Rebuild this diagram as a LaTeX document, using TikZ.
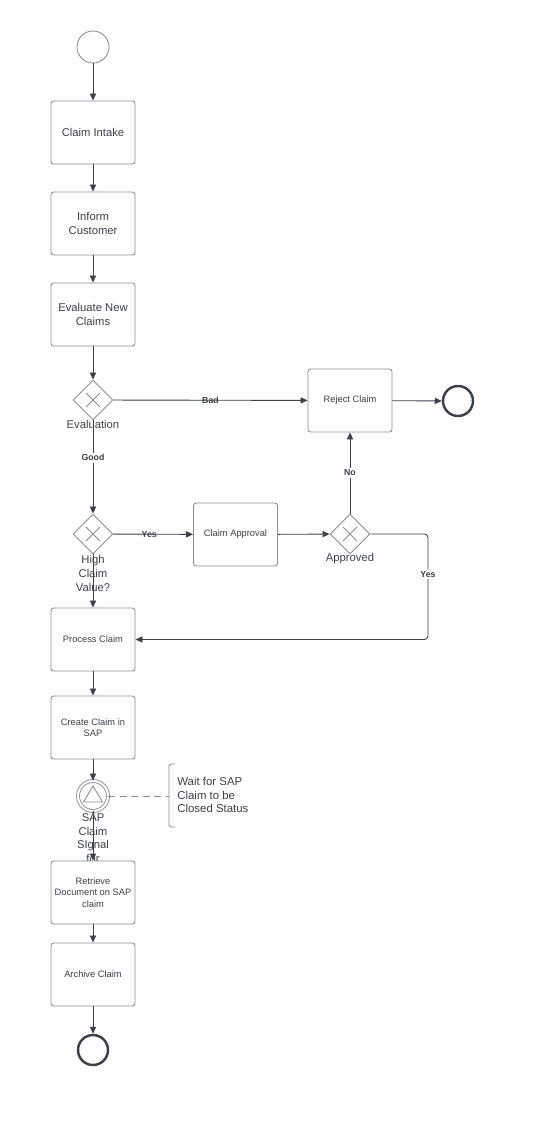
\documentclass[tikz,border=0pt]{standalone}
\usepackage{fontspec}
\setmainfont{Liberation Sans}
\usepackage{xcolor}
\usepackage{tikz}
\usetikzlibrary{shapes.geometric,arrows.meta,positioning}

\definecolor{ink}{HTML}{3A414A}
\definecolor{rim}{HTML}{8A8D91}

\begin{document}
\begin{tikzpicture}[x=0.02cm, y=-0.02cm,
      task/.style={draw=rim, line width=0.5pt, rounded corners=1.5pt, minimum width=1.68cm, minimum height=1.26cm, inner xsep=1pt, align=center, text=ink, font=\fontsize{5.3}{6.4}\selectfont},
      bigtask/.style={task, font=\fontsize{6.4}{7.8}\selectfont},
      gateway/.style={draw=rim, line width=0.5pt, diamond, minimum width=0.8cm, minimum height=0.8cm, inner sep=0pt},
      gwlabel/.style={align=center, text=ink, inner sep=0pt, font=\fontsize{6.4}{7.7}\selectfont},
      startevent/.style={draw=rim, line width=0.5pt, circle, minimum size=0.64cm, inner sep=0pt},
      endevent/.style={draw=ink, line width=1.4pt, circle, minimum size=0.6cm, inner sep=0pt},
      signalevent/.style={draw=rim, line width=0.5pt, double=white, double distance=1.2pt, circle, minimum size=0.6cm, inner sep=0pt},
      flow/.style={draw=ink, line width=0.5pt, -{Triangle[length=4pt, width=3.5pt]}},
      edgelabel/.style={text=ink, inner sep=1pt, font=\bfseries\fontsize{5}{6}\selectfont}
    ]
    \useasboundingbox (0,0) rectangle (538,1125);

    % main column
    \node[startevent] (start) at (93,47) {};
    \node[bigtask] (intake) at (93,132.5) {Claim Intake};
    \node[bigtask] (inform) at (93,223.5) {Inform\\Customer};
    \node[bigtask] (evaluate) at (93,314.5) {Evaluate New\\Claims};
    \node[gateway] (evalgw) at (93,400) {};
    \node[gwlabel] (evallbl) at (93,424) {Evaluation};
    \node[gateway] (valuegw) at (93,534) {};
    \node[gwlabel] (valuelbl) at (93,573.5) {High\\Claim\\Value?};
    \node[task] (process) at (93,639.5) {Process Claim};
    \node[task] (create) at (93,727.5) {Create Claim in\\SAP};
    \node[signalevent] (sapsignal) at (93,796) {};
    \node[gwlabel] (signallbl) at (93,838) {SAP\\Claim\\SIgnal\\for};
    \node[task, fill=white] (retrieve) at (93,892.5) {Retrieve\\Document on SAP\\claim};
    \node[task] (archive) at (93,974.5) {Archive Claim};
    \node[endevent] (finish) at (93,1050) {};

    % approval branch
    \node[task] (reject) at (350,400.5) {Reject Claim};
    \node[endevent] (rejectend) at (458,401) {};
    \node[task] (approval) at (235.5,534.5) {Claim Approval};
    \node[gateway] (approvedgw) at (350,534) {};
    \node[gwlabel] (approvedlbl) at (350,559) {Approved};
    \coordinate (yesturn) at (428,534);

    % gateway crosses and signal mark
    \foreach \g in {evalgw,valuegw,approvedgw}
      \draw[rim, line width=0.5pt] (\g.center) ++(-7,-7) -- ++(14,14) (\g.center) ++(-7,7) -- ++(14,-14);
    \draw[rim, line width=0.5pt] (sapsignal.center) ++(0,-10) -- ++(9.5,16) -- ++(-19,0) -- cycle;

    % flows
    \draw[flow] (start) -- (intake);
    \draw[flow] (intake) -- (inform);
    \draw[flow] (inform) -- (evaluate);
    \draw[flow] (evaluate) -- (evalgw);
    \draw[flow] (evalgw) -- node[edgelabel] {Bad} (reject);
    \draw[flow] (reject) -- (rejectend);
    \draw[flow] (evalgw) -- node[edgelabel, fill=white, pos=0.4] {Good} (valuegw);
    \draw[flow] (valuegw) -- node[edgelabel, pos=0.45] {Yes} (approval);
    \draw[flow] (approval) -- (approvedgw);
    \draw[flow] (approvedgw) -- node[edgelabel, fill=white] {No} (reject);
    \draw[flow, rounded corners=2pt] (approvedgw) -- (yesturn) |- node[edgelabel, fill=white, pos=0.19] {Yes} (process);
    \draw[flow] (valuegw) -- (process);
    \draw[flow] (process) -- (create);
    \draw[flow] (create) -- (sapsignal);
    \draw[flow] (sapsignal) -- (retrieve);
    \draw[flow] (retrieve) -- (archive);
    \draw[flow] (archive) -- (finish);

    % annotation
    \coordinate (bracket) at (169,796);
    \node[anchor=west, align=left, text=ink, inner sep=0pt, font=\fontsize{6.5}{7.9}\selectfont] (note) at (177,795) {Wait for SAP\\Claim to be\\Closed Status};
    \draw[rim, line width=0.5pt, dashed, dash pattern=on 4pt off 2.5pt] (sapsignal) -- (bracket);
    \draw[rim, line width=0.5pt, rounded corners=1pt] (bracket) ++(6,-32) -- ++(-6,0) -- ++(0,63) -- ++(6,0);
  \end{tikzpicture}
\end{document}
